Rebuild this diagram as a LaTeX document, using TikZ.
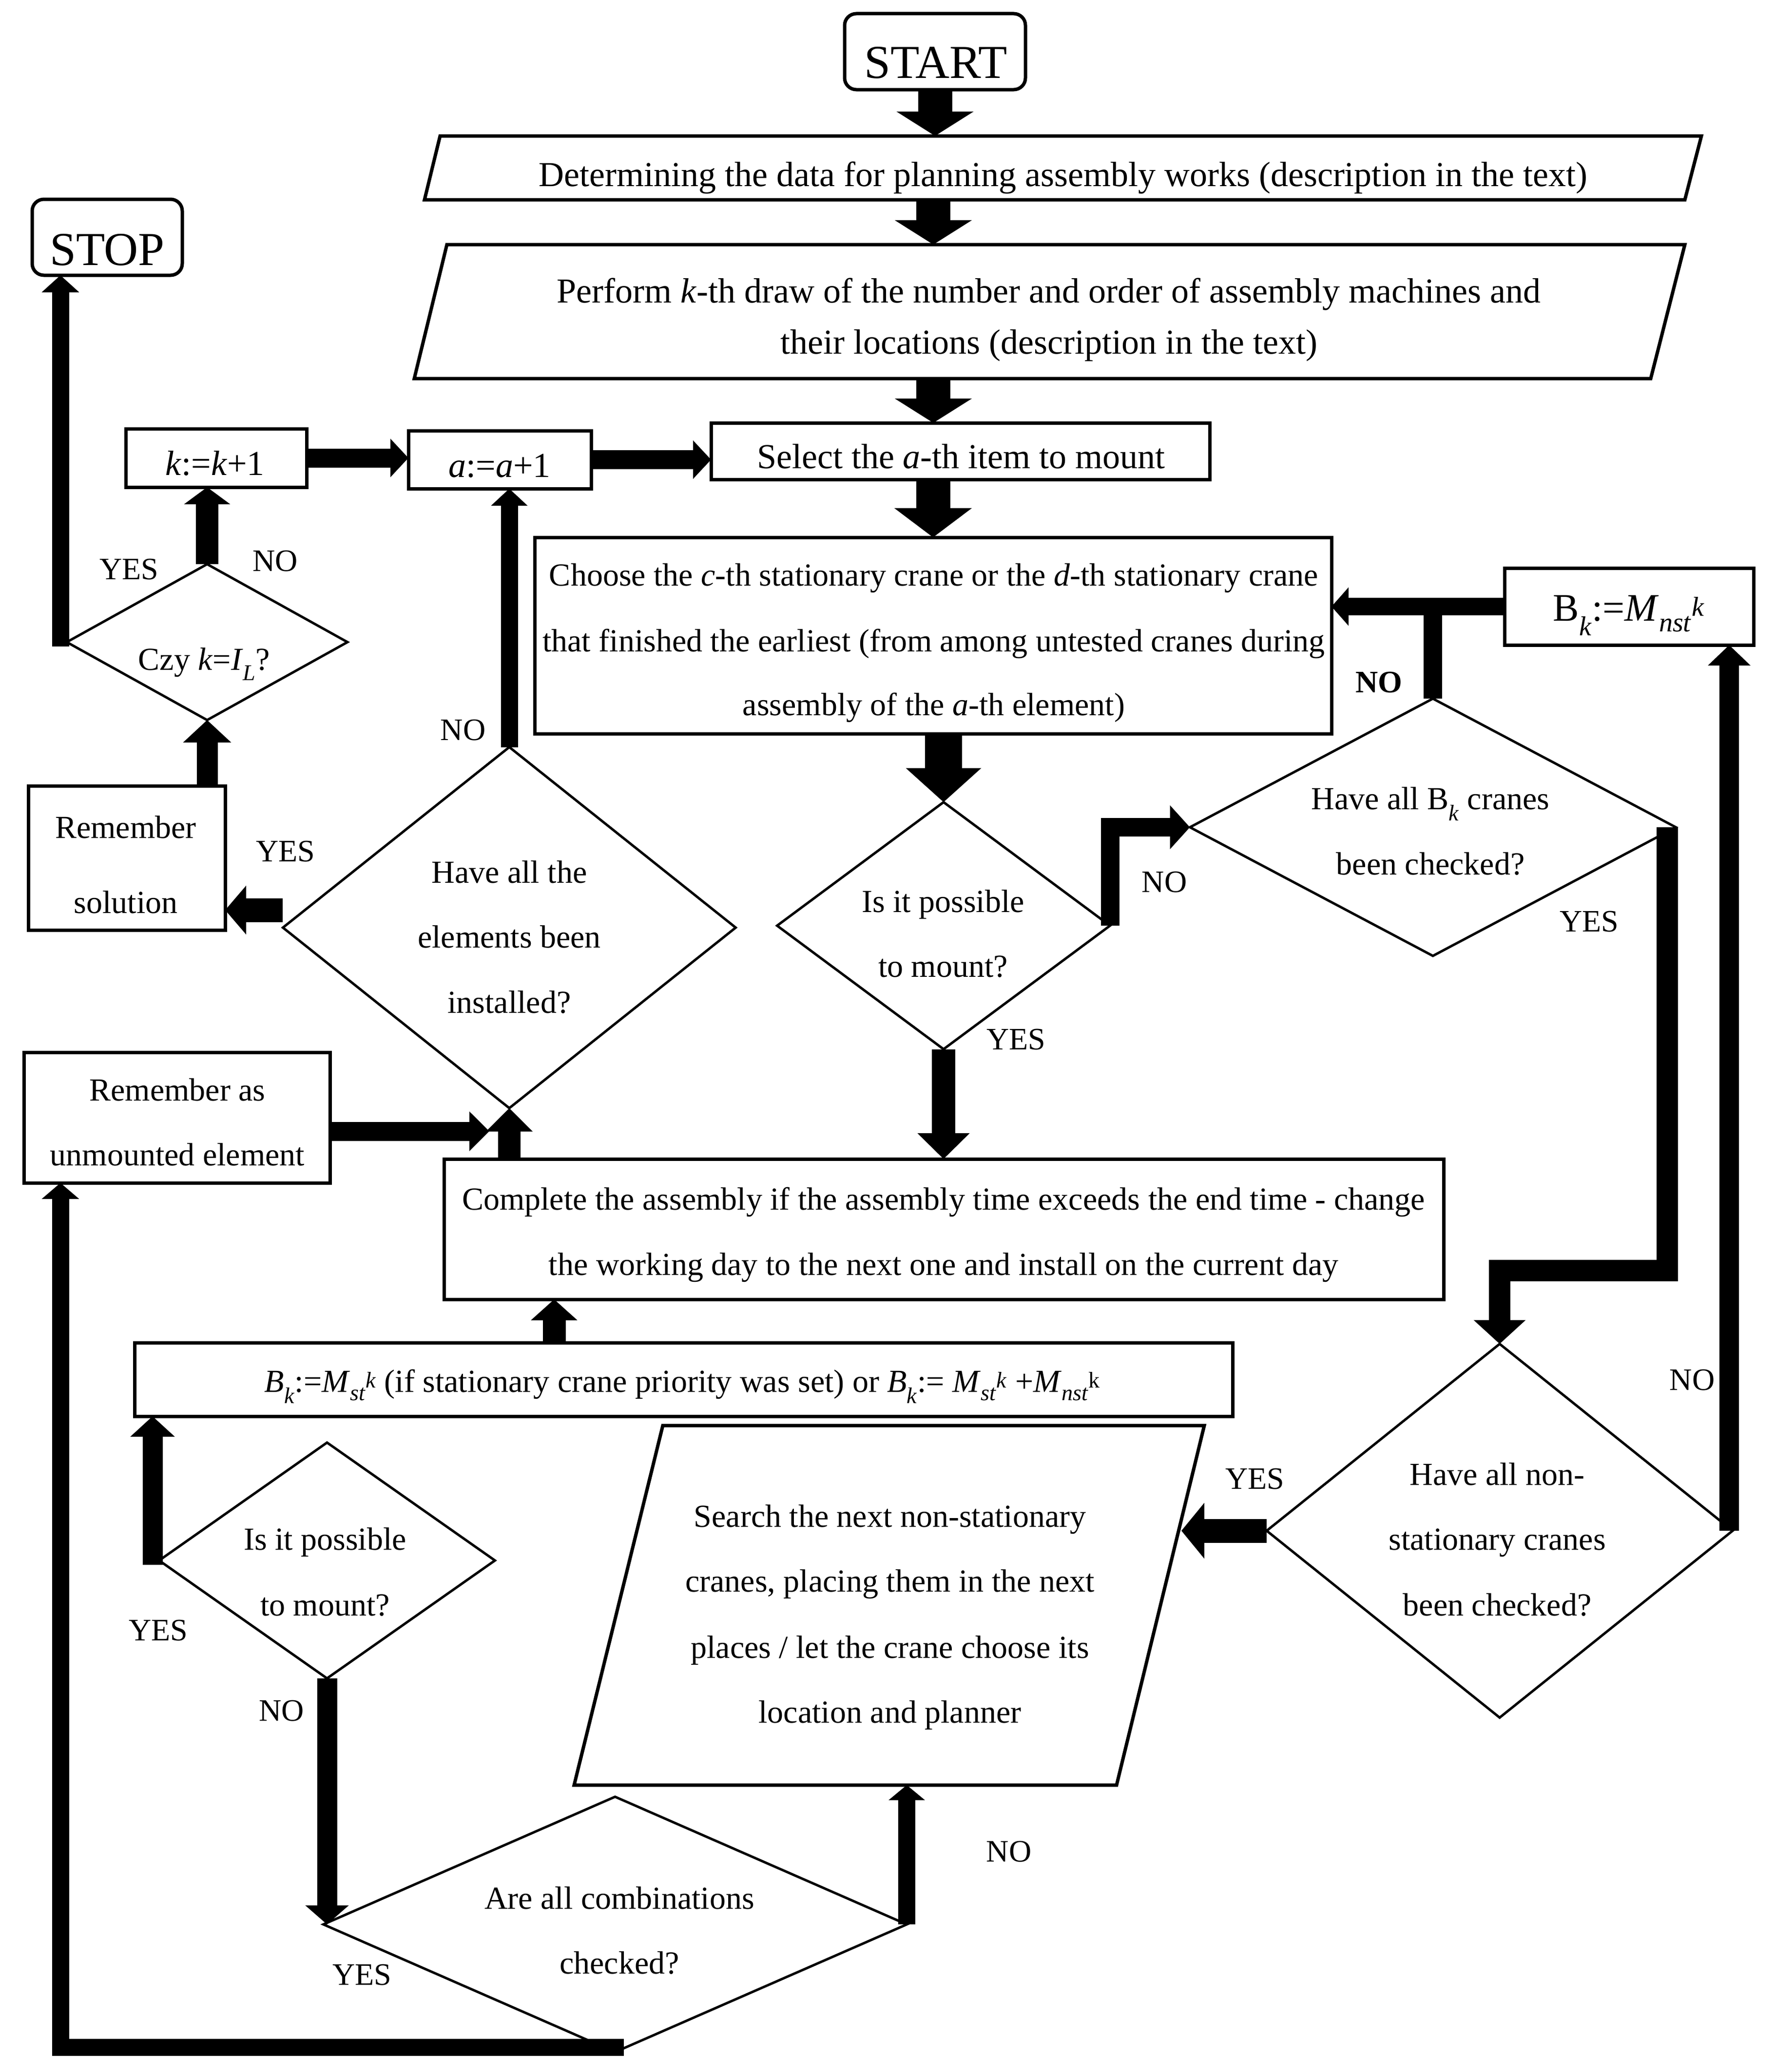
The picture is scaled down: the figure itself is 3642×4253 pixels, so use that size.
\documentclass[tikz,border=0pt]{standalone}
\usepackage{fontspec}
\setmainfont{Liberation Serif}
\usetikzlibrary{arrows.meta,shapes.geometric}
\begin{document}
\begin{tikzpicture}[x=1pt,y=-1pt,
  box/.style={draw, line width=7pt, rectangle, inner sep=0pt, outer sep=0pt},
  rbox/.style={box, rounded corners=24pt},
  dia/.style={draw, line width=5pt, diamond, inner sep=0pt, outer sep=0pt},
  para/.style={draw, line width=7pt, line join=miter},
  tx/.style={font=\fontsize{66}{80}\selectfont, inner sep=0pt, anchor=base},
  txp/.style={font=\fontsize{72}{86}\selectfont, inner sep=0pt, anchor=base},
  big/.style={font=\fontsize{97}{110}\selectfont, inner sep=0pt, anchor=base},
  lab/.style={font=\fontsize{64}{70}\selectfont, inner sep=0pt},
  arr/.style n args={3}{line width=#1, line join=miter, -{Triangle[width=#2,length=#3]}},
]
\useasboundingbox (0,0) rectangle (3642,4253);
\fill[white] (0,0) rectangle (3642,4253);

% ---------- shapes ----------
\node[rbox, minimum width=371pt, minimum height=156pt] (start) at (1918.5,106) {};
\node[rbox, minimum width=308pt, minimum height=156pt] (stop) at (220,487) {};
\draw[para] (903,279) -- (3491,279) -- (3457,410) -- (871,410) -- cycle;
\draw[para] (917,502) -- (3457,502) -- (3387,777) -- (850,777) -- cycle;
\node[box, minimum width=1023pt, minimum height=116pt] (select) at (1970.5,926) {};
\node[box, minimum width=371pt, minimum height=120pt] (kbox) at (443.5,940) {};
\node[box, minimum width=375pt, minimum height=119pt] (abox) at (1025.5,943.5) {};
\node[box, minimum width=1635pt, minimum height=403pt] (choose) at (1914.5,1304.5) {};
\node[box, minimum width=511pt, minimum height=158pt] (bnst) at (3342.5,1245) {};
\node[dia, minimum width=576pt, minimum height=320pt] (czy) at (425,1318) {};
\node[box, minimum width=404pt, minimum height=296pt] (remsol) at (260,1761) {};
\node[dia, minimum width=929pt, minimum height=741pt] (haveel) at (1045,1904) {};
\node[dia, minimum width=683pt, minimum height=507pt] (poss1) at (1936,1900) {};
\node[dia, minimum width=997pt, minimum height=528pt] (havebk) at (2940,1698) {};
\node[box, minimum width=628pt, minimum height=268pt] (remunm) at (363,2294) {};
\node[box, minimum width=2051pt, minimum height=288pt] (complete) at (1936.5,2523) {};
\node[box, minimum width=2253pt, minimum height=151pt] (bst) at (1402.5,2831.5) {};
\node[dia, minimum width=956pt, minimum height=767pt] (havenst) at (3077,3142) {};
\draw[para] (1360,2926) -- (2471,2926) -- (2291,3664) -- (1178,3664) -- cycle;
\node[dia, minimum width=689pt, minimum height=484pt] (poss2) at (671,3203) {};
\node[dia, minimum width=1197pt, minimum height=524pt] (areall) at (1262,3950) {};

% ---------- texts ----------
\node[big] (tstart) at (1920,160) {START};
\node[big] (tstop) at (220,544) {STOP};
\node[txp] (tdet) at (2181,382) {Determining the data for planning assembly works (description in the text)};
\node[txp] (tperf1) at (2152,621) {Perform \textit{k}-th draw of the number and order of assembly machines and};
\node[txp] (tperf2) at (2152,726) {their locations (description in the text)};
\node[txp] (tsel) at (1972,961) {Select the \textit{a}-th item to mount};
\node[txp] (tk) at (441,975) {\textit{k}:=\textit{k}+1};
\node[txp] (ta) at (1025,979) {\textit{a}:=\textit{a}+1};
\node[tx] (tczy) at (419,1375) {Czy \textit{k}=\textit{I}\textsubscript{\textit{L}}?};
\node[tx] (tsol1) at (258,1720) {Remember};
\node[tx] (tsol2) at (258,1874) {solution};
\node[tx] (tel1) at (1045,1812) {Have all the};
\node[tx] (tel2) at (1045,1945) {elements been};
\node[tx] (tel3) at (1045,2079) {installed?};
\node[tx] (tch1) at (1916,1202) {Choose the \textit{c}-th stationary crane or the \textit{d}-th stationary crane};
\node[tx] (tch2) at (1916,1337) {that finished the earliest (from among untested cranes during};
\node[tx] (tch3) at (1916,1468) {assembly of the \textit{a}-th element)};
\node[tx, font=\fontsize{80}{90}\selectfont] (tbnst) at (3342,1274) {B\textsubscript{\textit{k}}:=\textit{M}\textsubscript{\textit{nst}}\textsuperscript{\textit{k}}};
\node[tx] (tbk1) at (2935,1661) {Have all B\textsubscript{\textit{k}} cranes};
\node[tx] (tbk2) at (2935,1795) {been checked?};
\node[tx] (tp11) at (1935,1872) {Is it possible};
\node[tx] (tp12) at (1935,2005) {to mount?};
\node[tx] (tco1) at (1936,2483) {Complete the assembly if the assembly time exceeds the end time - change};
\node[tx] (tco2) at (1936,2617) {the working day to the next one and install on the current day};
\node[tx] (tun1) at (364,2259) {Remember as};
\node[tx] (tun2) at (364,2392) {unmounted element};
\node[tx] (tbst) at (1400,2857) {\textit{B}\textsubscript{\textit{k}}:=\textit{M}\textsubscript{\textit{st}}\textsuperscript{\textit{k}} (if stationary crane priority was set) or \textit{B}\textsubscript{\textit{k}}:= \textit{M}\textsubscript{\textit{st}}\textsuperscript{\textit{k}} +\textit{M}\textsubscript{\textit{nst}}\textsuperscript{k}};
\node[tx] (tse1) at (1826,3134) {Search the next non-stationary};
\node[tx] (tse2) at (1826,3267) {cranes, placing them in the next};
\node[tx] (tse3) at (1826,3403) {places / let the crane choose its};
\node[tx] (tse4) at (1826,3536) {location and planner};
\node[tx] (tns1) at (3072,3048) {Have all non-};
\node[tx] (tns2) at (3072,3181) {stationary cranes};
\node[tx] (tns3) at (3072,3316) {been checked?};
\node[tx] (tp21) at (667,3181) {Is it possible};
\node[tx] (tp22) at (667,3316) {to mount?};
\node[tx] (tar1) at (1271,3918) {Are all combinations};
\node[tx] (tar2) at (1271,4051) {checked?};

% ---------- labels ----------
\node[lab] (l1) at (265,1169) {YES};
\node[lab] (l2) at (565,1152) {NO};
\node[lab] (l3) at (950,1499) {NO};
\node[lab] (l4) at (586,1748) {YES};
\node[lab, font=\fontsize{64}{70}\selectfont\bfseries] (l5) at (2829,1401) {NO};
\node[lab] (l6) at (2389,1811) {NO};
\node[lab] (l7) at (3261,1892) {YES};
\node[lab] (l8) at (2085,2134) {YES};
\node[lab] (l9) at (3472,2833) {NO};
\node[lab] (l10) at (2575,3036) {YES};
\node[lab] (l11) at (325,3347) {YES};
\node[lab] (l12) at (578,3512) {NO};
\node[lab] (l13) at (2070,3801) {NO};
\node[lab] (l14) at (743,4054) {YES};

% ---------- connectors ----------
\coordinate (detT) at (1915,279);
\coordinate (detB) at (1915,410);
\coordinate (perfT) at (1915,502);
\coordinate (perfB) at (1915,777);
\draw[arr={70pt}{156pt}{50pt}] (start.south) -- (start.south |- detT);
\draw[arr={70pt}{156pt}{50pt}] (detB) -- (perfT);
\draw[arr={70pt}{156pt}{50pt}] (perfB) -- (perfB |- select.north);
\draw[arr={70pt}{156pt}{60pt}] (choose.north |- select.south) -- (choose.north);
\draw[arr={76pt}{151pt}{70pt}] (poss1.north |- choose.south) -- (poss1.north);
\draw[arr={48pt}{104pt}{53pt}] (poss1.south) -- (poss1.south |- complete.north);
\draw[arr={38pt}{88pt}{41pt}] (poss1.east) |- (havebk.west);
\draw[line width=38pt] (havebk.north) -- (havebk.north |- bnst.west);
\draw[arr={36pt}{77pt}{35pt}] (bnst.west) -- (bnst.west -| choose.east);
\coordinate (yesturn) at (3421,2608);
\draw[arr={44pt}{104pt}{49pt}] (yesturn |- havebk.east) -- (yesturn) -| (havenst.north);
\coordinate (noR) at (3548,3142);
\draw[arr={40pt}{85pt}{42pt}] (noR) -- (noR |- bnst.south);
\coordinate (searchR) at (2424,3142);
\draw[arr={49pt}{112pt}{47pt}] (havenst.west) -- (searchR);
\coordinate (searchB) at (1860,3664);
\draw[arr={35pt}{73pt}{31pt}] (areall.east) -- (areall.east |- searchB);
\coordinate (botR) at (1280,4202);
\coordinate (botL) at (124,4202);
\draw[arr={35pt}{75pt}{33pt}] (botR) -- (botL) -- (botL |- remunm.south);
\draw[arr={41pt}{87pt}{39pt}] (poss2.south) -- (poss2.south |- areall.west);
\coordinate (yesB) at (313,3212);
\draw[arr={41pt}{89pt}{42pt}] (yesB) -- (yesB |- bst.south);
\coordinate (bstup) at (1137,2756);
\draw[arr={47pt}{93pt}{43pt}] (bstup) -- (bstup |- complete.south);
\draw[arr={46pt}{93pt}{48pt}] (haveel.south |- complete.north) -- (haveel.south);
\coordinate (unmTip) at (1004,2322);
\draw[arr={39pt}{79pt}{41pt}] (remunm.east |- unmTip) -- (unmTip);
\draw[arr={35pt}{73pt}{35pt}] (haveel.north) -- (haveel.north |- abox.south);
\coordinate (solA) at (580,1868);
\draw[arr={49pt}{98pt}{43pt}] (solA) -- (solA -| remsol.east);
\draw[arr={43pt}{96pt}{46pt}] (czy.south |- remsol.north) -- (czy.south);
\draw[arr={46pt}{93pt}{35pt}] (czy.north) -- (czy.north |- kbox.south);
\coordinate (yesA) at (124,1327);
\draw[arr={35pt}{75pt}{35pt}] (yesA) -- (yesA |- stop.south);
\draw[arr={39pt}{77pt}{37pt}] (kbox.east) -- (kbox.east -| abox.west);
\draw[arr={39pt}{77pt}{37pt}] (abox.east) -- (abox.east -| select.west);
\end{tikzpicture}
\end{document}
